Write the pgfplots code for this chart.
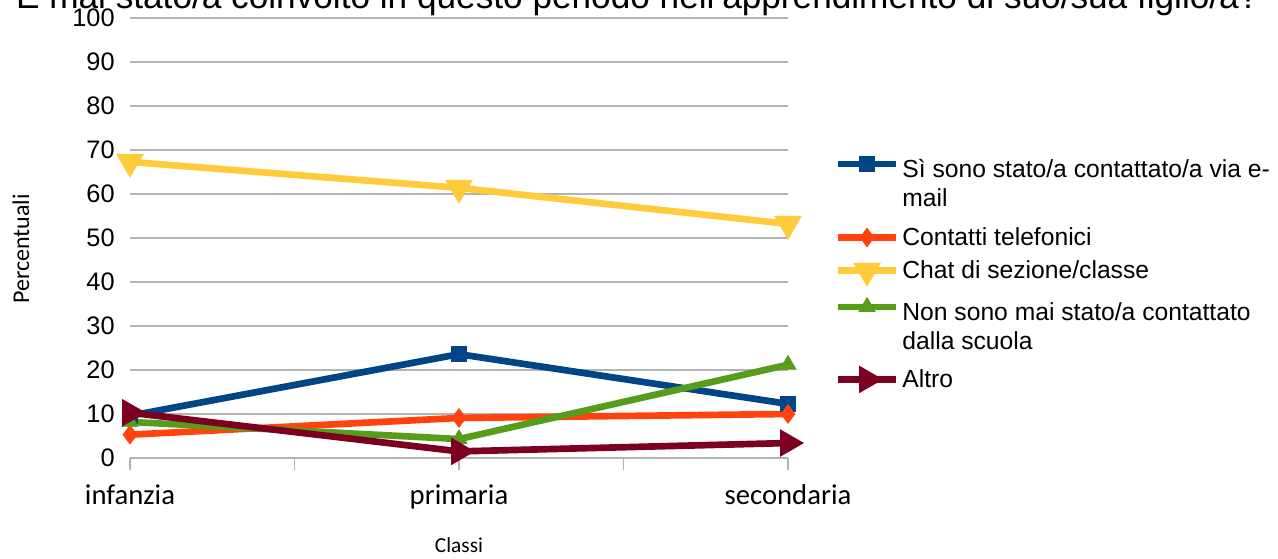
\documentclass[border=0pt]{standalone}
\usepackage{fontspec}
\setmainfont{Liberation Sans}
\newfontfamily\carlito{Carlito}
\usepackage{pgfplots}
\pgfplotsset{compat=1.18}
\definecolor{cblue}{HTML}{004586}
\definecolor{cred}{HTML}{FF420E}
\definecolor{cyellow}{HTML}{FFCB3A}
\definecolor{cgreen}{HTML}{579D1C}
\definecolor{cdred}{HTML}{7E0021}
\definecolor{cgrid}{HTML}{B3B3B3}
\begin{document}
\begin{tikzpicture}
\path[use as bounding box] (0,0) rectangle (958.5pt,418.5pt);
\clip (0,0) rectangle (958.5pt,418.5pt);
\node[font=\fontsize{26.4}{30}\selectfont, anchor=base] at (478pt,412pt) {È mai stato/a coinvolto in questo periodo nell'apprendimento di suo/sua figlio/a?};
\begin{axis}[
  at={(97.5pt,75pt)}, anchor=south west,
  scale only axis, width=493.5pt, height=330pt,
  xmin=0, xmax=2, ymin=0, ymax=100,
  clip=false,
  axis line style={draw=none},
  xtick={0,0.5,1,1.5,2},
  xticklabels={infanzia,,primaria,,secondaria},
  xtick pos=bottom, xtick align=outside,
  major tick length=9pt,
  xtick style={cgrid, line width=1pt},
  ytick={0,10,...,100},
  ytick style={draw=none},
  ymajorgrids, grid style={cgrid, line width=1pt},
  /pgf/number format/assume math mode=true,
  yticklabel style={font=\fontsize{19}{22}\selectfont, xshift=-8pt},
  xticklabel style={font=\carlito\fontsize{21.5}{26}\selectfont, yshift=-7.5pt},
  xlabel={Classi}, ylabel={Percentuali},
  xlabel style={font=\carlito\fontsize{16}{18}\selectfont, at={(axis description cs:0.5,-0.198)}, anchor=center},
  ylabel style={font=\carlito\fontsize{18}{20}\selectfont, at={(axis description cs:-0.1657,0.475)}, anchor=center, rotate=0},
  every axis plot/.append style={line width=5pt, mark size=5.5pt, every mark/.append style={line width=0.5pt}},
  legend cell align=left,
  legend style={at={(axis description cs:1.064,0.71)}, anchor=north west, draw=none, fill=none,
    font=\fontsize{18.5}{21.75}\selectfont, cells={anchor=west, align=left}, row sep=6pt},
  legend image code/.code={\draw[mark repeat=2,mark phase=2] plot coordinates {(0pt,0pt) (22pt,0pt) (44pt,0pt)};},
]
\addplot[cblue, mark=square*, legend image code/.code={\draw[mark repeat=2,mark phase=2] plot coordinates {(0pt,11.8pt) (22pt,11.8pt) (44pt,11.8pt)};}] coordinates {(0,9.6) (1,23.6) (2,12.3)};
\addlegendentry{\rule{0pt}{19.5pt}Sì sono stato/a contattato/a via e-\\mail}
\addplot[cred, mark=diamond*, mark size=7pt, legend image code/.code={\draw[mark repeat=2,mark phase=2] plot coordinates {(0pt,-2.25pt) (22pt,-2.25pt) (44pt,-2.25pt)};}] coordinates {(0,5.3) (1,9.1) (2,10.0)};
\addlegendentry{\rule{0pt}{18pt}Contatti telefonici}
\addplot[cyellow, mark=triangle*, mark options={rotate=180}, mark size=7pt] coordinates {(0,67.3) (1,61.4) (2,53.2)};
\addlegendentry{Chat di sezione/classe}
\addplot[cgreen, mark=triangle*, mark size=7pt, legend image code/.code={\draw[mark repeat=2,mark phase=2] plot coordinates {(0pt,11.8pt) (22pt,11.8pt) (44pt,11.8pt)};}] coordinates {(0,8.2) (1,4.3) (2,21.2)};
\addlegendentry{\rule{0pt}{19.5pt}Non sono mai stato/a contattato\\dalla scuola}
\addplot[cdred, mark=triangle*, mark options={rotate=-90}, mark size=7pt, legend image code/.code={\draw[mark repeat=2,mark phase=2] plot coordinates {(0pt,-1.9pt) (22pt,-1.9pt) (44pt,-1.9pt)};}] coordinates {(0,10.3) (1,1.5) (2,3.4)};
\addlegendentry{\rule{0pt}{17.25pt}Altro}
\end{axis}
\end{tikzpicture}
\end{document}
